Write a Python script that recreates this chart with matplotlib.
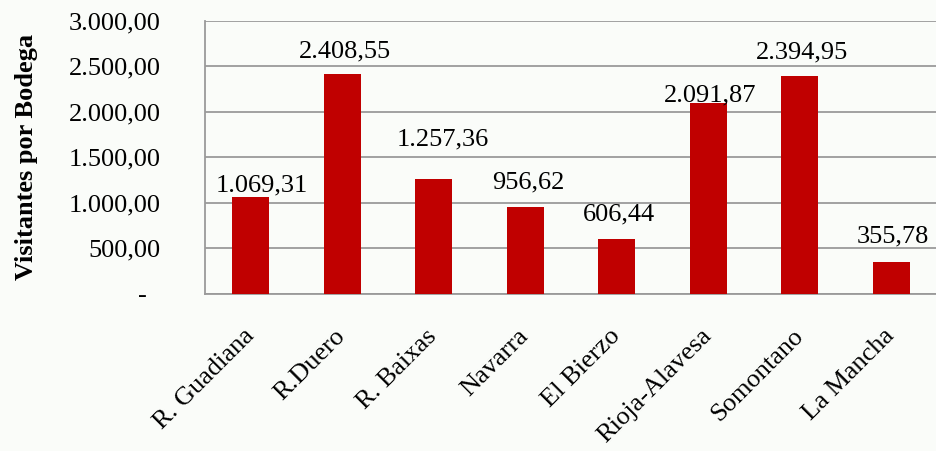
import matplotlib
matplotlib.use('Agg')
import matplotlib.pyplot as plt

plt.rcParams['font.family'] = ['Liberation Serif', 'DejaVu Serif']

regions = ['R. Guadiana', 'R.Duero', 'R. Baixas', 'Navarra', 'El Bierzo',
           'Rioja-Alavesa', 'Somontano', 'La Mancha']
visitors = [1069.31, 2408.55, 1257.36, 956.62, 606.44, 2091.87, 2394.95, 355.78]
y_ticks = [0, 500, 1000, 1500, 2000, 2500, 3000]


def es_format(v):
    s = f'{v:,.2f}'
    return s.replace(',', 'X').replace('.', ',').replace('X', '.')


# label nudges (pixels) to mimic the Excel layout
label_dx = [11, 3, 9, 3, 2, 2, 2, 2]
label_dy = [5, 17, 34, 18, 18, 2, 17, 19]

bg = '#fafcf9'
fig = plt.figure(figsize=(9.36, 4.51), dpi=100, facecolor=bg)
ax = fig.add_axes([205 / 936, 1 - 294 / 451, 732 / 936, (294 - 20.5) / 451])
ax.set_facecolor(bg)

x = range(len(regions))
ax.bar(x, visitors, width=0.4, color='#c00000', zorder=3)

for i, v in enumerate(visitors):
    ax.annotate(es_format(v), (i, v), xytext=(label_dx[i], label_dy[i]),
                textcoords='offset pixels', ha='center', va='baseline',
                fontsize=19, zorder=4)

ax.set_xlim(-0.5, len(regions) - 0.5)
ax.set_ylim(0, 3000)
ax.set_yticks(y_ticks)
ax.set_yticklabels(['-  '] + [es_format(t) for t in y_ticks[1:]], fontsize=19)
ax.tick_params(axis='y', length=0, pad=32)

ax.set_xticks(list(x))
ax.set_xticklabels(regions, rotation=45, ha='right', va='center',
                   rotation_mode='anchor', fontsize=19)
ax.tick_params(axis='x', length=0, pad=28)

ax.grid(axis='y', color='#9a9a9a', linewidth=1.3, zorder=0)
for side in ['top', 'right']:
    ax.spines[side].set_visible(False)
for side in ['left', 'bottom']:
    ax.spines[side].set_color('#9a9a9a')
    ax.spines[side].set_linewidth(1.3)

fig.text(27 / 936, 1 - 157 / 451, 'Visitantes por Bodega', rotation=90,
         ha='center', va='center', fontsize=19, fontweight='bold')

fig.savefig('out.png', dpi=100, facecolor=bg)
plt.close()
